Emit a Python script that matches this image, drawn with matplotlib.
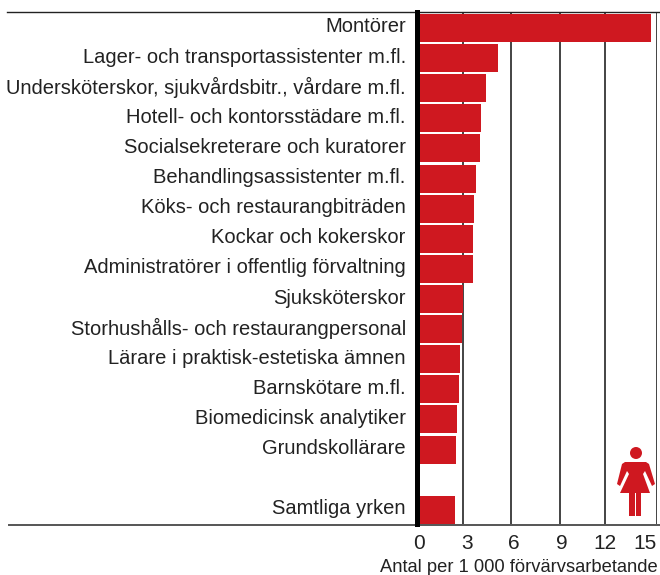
import matplotlib
matplotlib.use("Agg")
import matplotlib.pyplot as plt
from matplotlib.patches import Circle, Polygon
from matplotlib.transforms import Affine2D, ScaledTranslation

W, H = 660, 575
occupations = ["Montörer", "Lager- och transportassistenter m.fl.",
    "Undersköterskor, sjukvårdsbitr., vårdare m.fl.", "Hotell- och kontorsstädare m.fl.",
    "Socialsekreterare och kuratorer", "Behandlingsassistenter m.fl.",
    "Köks- och restaurangbiträden", "Kockar och kokerskor",
    "Administratörer i offentlig förvaltning", "Sjuksköterskor",
    "Storhushålls- och restaurangpersonal", "Lärare i praktisk-estetiska ämnen",
    "Barnskötare m.fl.", "Biomedicinsk analytiker", "Grundskollärare"]
values = [14.6, 4.98, 4.22, 3.9, 3.85, 3.6, 3.47, 3.4, 3.4, 2.77, 2.7, 2.58, 2.52, 2.4, 2.33]
total_label = "Samtliga yrken"
total_value = 2.27
tick_values = [0, 3, 6, 9, 12, 15]
tick_labels = ["0", "3", "6", "9", "12", "15"]
grid_values = [2.78, 5.82, 8.87, 11.73]
xlabel = "Antal per 1 000 förvärvsarbetande"
RED = "#cf1820"

plt.rcParams["font.family"] = ["Liberation Sans", "DejaVu Sans"]
fig = plt.figure(figsize=(W/100, H/100), dpi=100)
ax = fig.add_axes([419/W, 1-524/H, (657-419)/W, (524-12)/H])
ax.set_xlim(0, 15)
ax.set_ylim(16.47, -0.53)

names = occupations + [total_label]
vals = values + [total_value]
pos = list(range(len(occupations))) + [16]
ax.barh(pos, vals, height=0.93, color=RED, zorder=3)
for g in grid_values + [15]:
    ax.axvline(g, color="#111111", lw=1.1, zorder=1)

for s in ax.spines.values():
    s.set_visible(False)
ax.set_yticks(pos, names, fontsize=14.5, color="#222222")
ax.tick_params(axis="y", length=0, pad=9.5)
up = ScaledTranslation(0, 3/100, fig.dpi_scale_trans)
for t in ax.get_yticklabels():
    t.set_transform(t.get_transform() + up)
ax.set_xticks(tick_values, tick_labels, fontsize=15, color="#222222")
ax.tick_params(axis="x", length=0, pad=7)
xt = ax.get_xticklabels()
xt[-1].set_ha("right")
xt[4].set_transform(xt[4].get_transform() + ScaledTranslation(-4/100, 0, fig.dpi_scale_trans))

def fx(x): return x/W
def fy(y): return 1-y/H
fig.add_artist(plt.Line2D([fx(416.5)]*2, [fy(12), fy(524)], color="black", lw=3.6, zorder=5))
fig.add_artist(plt.Line2D([fx(7), 1], [fy(12)]*2, color="#222222", lw=1.0))
fig.add_artist(plt.Line2D([fx(9), 1], [fy(524.5)]*2, color="#555555", lw=1.4))
fig.text(fx(658), fy(567), xlabel, ha="right", va="center", fontsize=13.2, color="#222222")

# woman pictogram, drawn in pixel coordinates
tr = Affine2D().scale(1/W, -1/H).translate(0, 1) + fig.transFigure
fig.add_artist(Circle((636, 453), 6, color=RED, lw=0, transform=tr))
body = [(625, 462), (646, 462), (649, 464), (655, 484), (652, 486), (645, 471), (643, 474), (650, 493),
        (641, 493), (641, 516), (636, 516), (636, 493), (635, 493), (635, 516), (629, 516), (629, 493),
        (620, 493), (629, 474), (627, 471), (620, 486), (617, 484), (622, 464)]
fig.add_artist(Polygon(body, closed=True, color=RED, lw=0, transform=tr))

fig.savefig("out.png", dpi=100)
